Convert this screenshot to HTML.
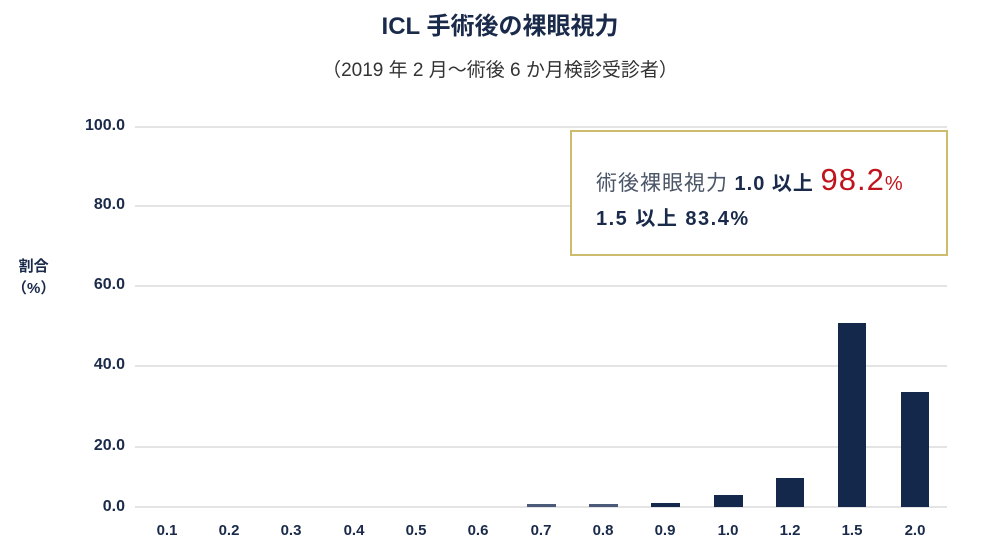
<!DOCTYPE html><html><head><meta charset="utf-8"><style>
body{margin:0;width:1000px;height:560px;background:#fff;overflow:hidden;font-family:"Liberation Sans","Noto Sans CJK JP",sans-serif;color:#1a2a4a}
.a{position:absolute;white-space:nowrap}
.g{position:absolute;left:135px;width:812px;height:2px;background:#e4e4e4}
.y{position:absolute;right:875px;font-weight:bold;font-size:16px;color:#1a2a4a}
.x{position:absolute;width:60px;text-align:center;font-weight:bold;font-size:15px;top:522px}
.b{position:absolute;background:#13284a}
</style></head><body>
<div class="a" style="left:0;width:1000px;text-align:center;top:6px;font-size:24px;font-weight:bold;color:#1a2a4a">ICL 手術後の裸眼視力</div>
<div class="a" style="left:0;width:1000px;text-align:center;top:55px;font-size:19px;color:#333">（2019 年 2 月～術後 6 か月検診受診者）</div>
<div class="g" style="top:126px"></div><div class="g" style="top:205px"></div><div class="g" style="top:285px"></div><div class="g" style="top:365px"></div><div class="g" style="top:446px"></div><div class="g" style="top:506px"></div>
<div class="y" style="top:117px">100.0</div><div class="y" style="top:196px">80.0</div><div class="y" style="top:276px">60.0</div><div class="y" style="top:356px">40.0</div><div class="y" style="top:437px">20.0</div><div class="y" style="top:498px">0.0</div>
<div class="a" style="left:12px;top:256px;font-size:15px;font-weight:bold;line-height:22px;text-align:center">割合<br>（%）</div>
<div class="b" style="left:527px;width:29px;top:504px;height:3px;background:#4a5a78"></div>
<div class="b" style="left:589px;width:29px;top:504px;height:3px;background:#4a5a78"></div>
<div class="b" style="left:651px;width:29px;top:503px;height:4px"></div>
<div class="b" style="left:714px;width:29px;top:495px;height:12px"></div>
<div class="b" style="left:776px;width:28px;top:478px;height:29px"></div>
<div class="b" style="left:838px;width:28px;top:323px;height:184px"></div>
<div class="b" style="left:901px;width:28px;top:392px;height:115px"></div>
<div class="x" style="left:137px">0.1</div><div class="x" style="left:199px">0.2</div><div class="x" style="left:261px">0.3</div><div class="x" style="left:324px">0.4</div><div class="x" style="left:386px">0.5</div><div class="x" style="left:448px">0.6</div><div class="x" style="left:511px">0.7</div><div class="x" style="left:573px">0.8</div><div class="x" style="left:635px">0.9</div><div class="x" style="left:698px">1.0</div><div class="x" style="left:760px">1.2</div><div class="x" style="left:822px">1.5</div><div class="x" style="left:885px">2.0</div>
<div class="a" style="left:570px;top:130px;width:374px;height:122px;border:2px solid #cdbb6e;background:#fff"></div>
<div class="a" style="left:596px;top:162px;font-size:20px;font-weight:bold;letter-spacing:1px"><span style="color:#4a5568;font-weight:normal;font-size:21px">術後裸眼視力</span> 1.0 以上 <span style="color:#c0141c;font-size:31px;font-weight:normal">98.2</span><span style="color:#c0141c;font-size:20px;font-weight:normal">%</span></div>
<div class="a" style="left:596px;top:202px;font-size:20px;font-weight:bold;letter-spacing:1.5px">1.5 以上 83.4%</div>
</body></html>
